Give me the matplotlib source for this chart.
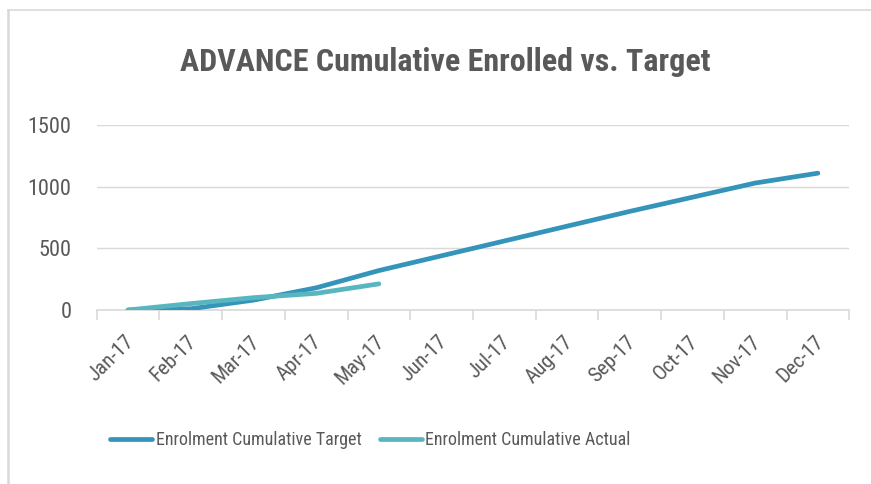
import matplotlib.pyplot as plt
from matplotlib.lines import Line2D
from matplotlib.transforms import ScaledTranslation
import numpy as np

months = ['Jan-17', 'Feb-17', 'Mar-17', 'Apr-17', 'May-17', 'Jun-17',
          'Jul-17', 'Aug-17', 'Sep-17', 'Oct-17', 'Nov-17', 'Dec-17']
target = [0, 10, 80, 180, 320, 440, 560, 680, 800, 915, 1030, 1110]
actual = [0, 52, 100, 135, 212]

plt.rcParams['font.family'] = ['Roboto Condensed', 'DejaVu Sans']
grey = '#595959'

fig = plt.figure(figsize=(8.71, 4.84), dpi=100)
# chart area border (top and left edges only visible)
fig.lines.append(Line2D([8 / 871, 1], [1 - 10 / 484] * 2, transform=fig.transFigure,
                        color='#d9d9d9', linewidth=1.2))
fig.lines.append(Line2D([8 / 871] * 2, [0, 1 - 10 / 484], transform=fig.transFigure,
                        color='#d9d9d9', linewidth=1.8))

ax = fig.add_axes([0.111, 0.3595, 0.864, 0.382])

x = np.arange(len(months))
ax.plot(x, target, color='#3494ba', linewidth=3.4, solid_capstyle='round',
        label='Enrolment Cumulative Target', zorder=3)
ax.plot(x[:len(actual)], actual, color='#58b6c0', linewidth=3.4, solid_capstyle='round',
        label='Enrolment Cumulative Actual', zorder=4)

ax.set_xlim(-0.5, 11.5)
ax.set_ylim(0, 1500)
ax.set_yticks([0, 500, 1000, 1500])
ax.yaxis.grid(True, color='#d9d9d9', linewidth=1)
ax.set_axisbelow(True)
for s in ['top', 'right', 'left']:
    ax.spines[s].set_visible(False)
ax.spines['bottom'].set_color('#d9d9d9')
ax.spines['bottom'].set_linewidth(1.2)

ax.set_xticks(x)
ax.set_xticklabels(months, rotation=45, ha='right', rotation_mode='anchor')
ax.set_xticks(np.arange(-0.5, 12, 1), minor=True)
ax.tick_params(axis='x', which='major', length=0, pad=16, labelsize=15, labelcolor=grey)
ax.tick_params(axis='x', which='minor', length=7, color='#d9d9d9', width=1.2)
ax.tick_params(axis='y', length=0, pad=18, labelsize=16, labelcolor=grey)
shift = ScaledTranslation(-4 / 100, 0, fig.dpi_scale_trans)
for lab in ax.get_xticklabels():
    lab.set_transform(lab.get_transform() + shift)

fig.text(0.511, 0.872, 'ADVANCE Cumulative Enrolled vs. Target', ha='center', va='center',
         fontsize=23, fontweight='bold', color=grey)

leg = fig.legend(loc='center left', bbox_to_anchor=(0.108, 0.09), ncol=2, frameon=False,
                 fontsize=13, labelcolor=grey, handlelength=2.33, handletextpad=0.2,
                 columnspacing=1.0)

fig.savefig('out.png', dpi=100)
